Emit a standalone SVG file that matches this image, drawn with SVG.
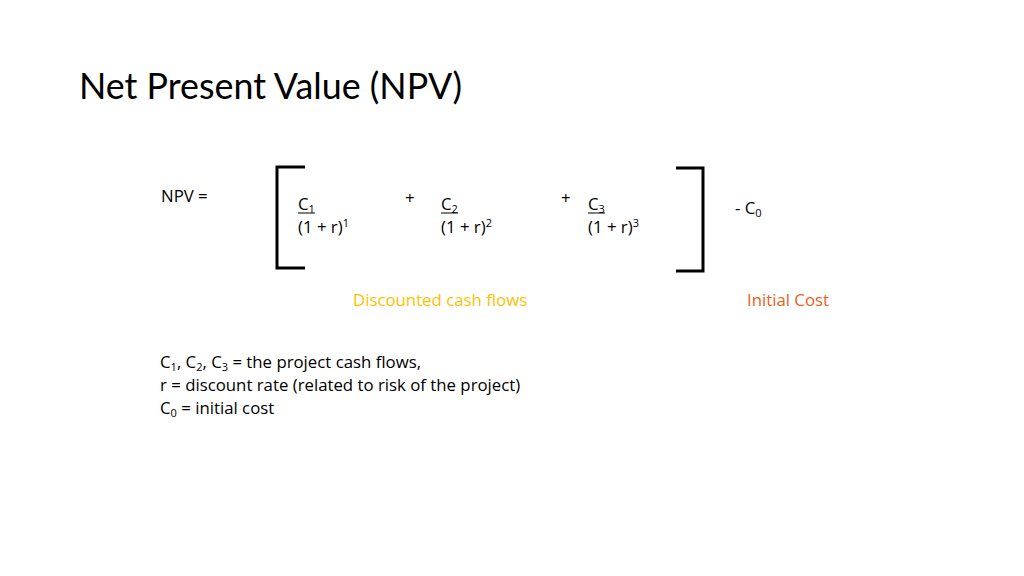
<svg xmlns="http://www.w3.org/2000/svg" width="1024" height="576" viewBox="0 0 1024 576">
<style>
text{font-family:"Open Sans","Liberation Sans",sans-serif;font-size:16.8px;fill:#000}
.t{font-family:Lato,"Open Sans",sans-serif}
.sub{font-size:11px}
.br{fill:none;stroke:#000;stroke-width:3}
.ul{stroke:#000;stroke-width:1}
</style>
<rect width="1024" height="576" fill="#fff"/>
<text class="t" x="79" y="99" style="font-size:36px" textLength="383" lengthAdjust="spacingAndGlyphs">Net Present Value (NPV)</text>
<g id="npv"><text x="161" y="202">NPV =</text></g>
<g id="brackets">
<path class="br" d="M305 167 H277 V268 H305"/>
<path class="br" d="M676 168 H703 V271 H676"/>
</g>
<g id="term1"><text x="298" y="210">C<tspan class="sub" dy="3">1</tspan></text><line class="ul" x1="298" y1="213" x2="315" y2="213"/><text x="298" y="233">(1 + r)<tspan class="sub" dy="-6">1</tspan></text></g>
<g id="plus1"><text x="405" y="204">+</text></g>
<g id="term2"><text x="441" y="210">C<tspan class="sub" dy="3">2</tspan></text><line class="ul" x1="441" y1="213" x2="458" y2="213"/><text x="441" y="233">(1 + r)<tspan class="sub" dy="-6">2</tspan></text></g>
<g id="plus2"><text x="561" y="204">+</text></g>
<g id="term3"><text x="588" y="210">C<tspan class="sub" dy="3">3</tspan></text><line class="ul" x1="588" y1="213" x2="605" y2="213"/><text x="588" y="233">(1 + r)<tspan class="sub" dy="-6">3</tspan></text></g>
<g id="c0"><text x="735" y="214">- C<tspan class="sub" dy="3">0</tspan></text></g>
<g id="disc"><text x="353" y="306" style="fill:#FFC000">Discounted cash flows</text></g>
<g id="init"><text x="747" y="306" style="fill:#ED5D1A">Initial Cost</text></g>
<g id="legend">
<text x="160" y="368">C<tspan class="sub" dy="3">1</tspan><tspan dy="-3">, C</tspan><tspan class="sub" dy="3">2</tspan><tspan dy="-3">, C</tspan><tspan class="sub" dy="3">3</tspan><tspan dy="-3"> = the project cash flows,</tspan></text>
<text x="160" y="391">r = discount rate (related to risk of the project)</text>
<text x="160" y="414">C<tspan class="sub" dy="3">0</tspan><tspan dy="-3"> = initial cost</tspan></text>
</g>
</svg>
